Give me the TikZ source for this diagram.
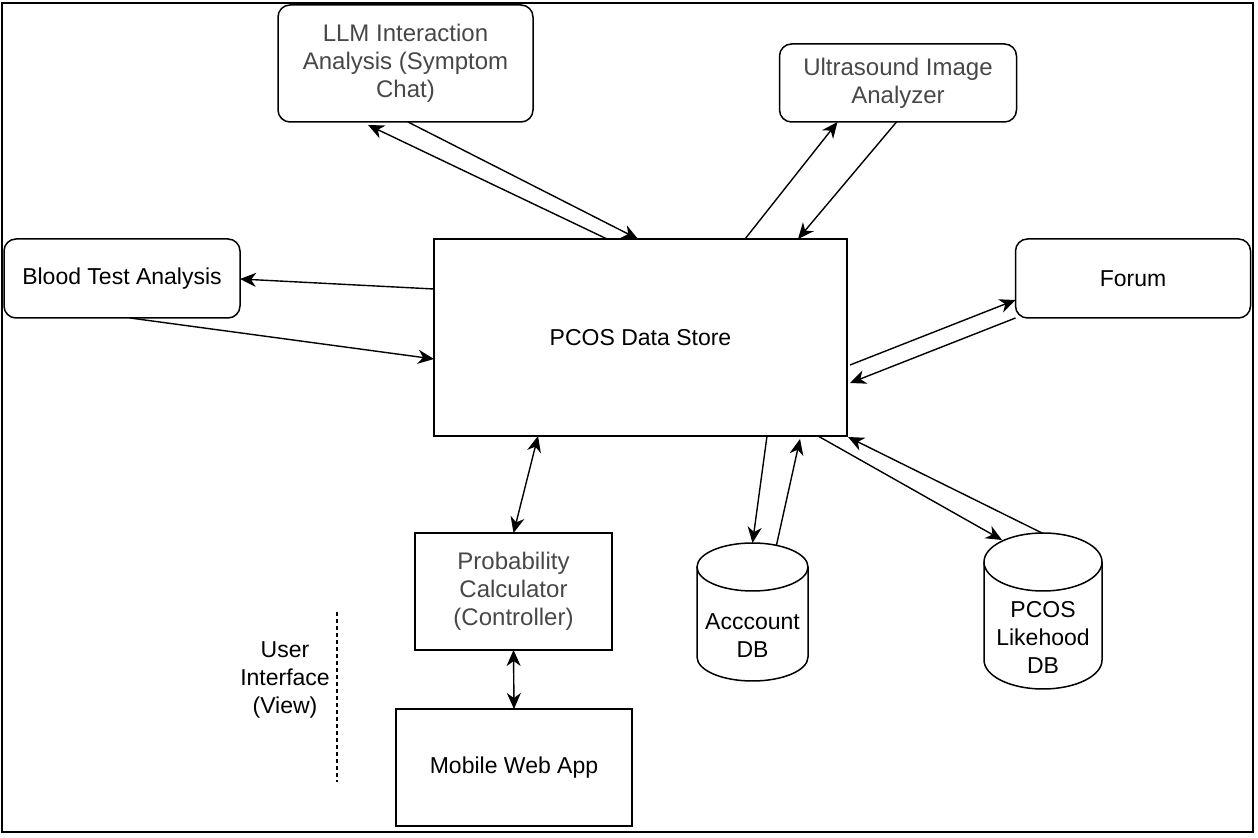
\documentclass[tikz,border=0pt]{standalone}
\usepackage{fontspec}
\setmainfont{Liberation Sans}
\usetikzlibrary{arrows.meta,calc}

\begin{document}
\begin{tikzpicture}[x=0.5pt,y=-0.5pt,
    box/.style={draw,line width=0.75pt,inner sep=0pt,outer sep=0pt,align=center,font=\fontsize{11.5pt}{14pt}\selectfont},
    rbox/.style={box,rounded corners=6pt},
    grey/.style={text=black!72,font=\fontsize{12pt}{14pt}\selectfont},
    dbbox/.style={inner sep=0pt,outer sep=0pt},
    txt/.style={align=center,inner sep=0pt,font=\fontsize{11.5pt}{14pt}\selectfont},
    arr/.style={line width=0.7pt,-{Stealth[length=8pt,width=7pt,inset=2.5pt]}},
    darr/.style={line width=0.7pt,{Stealth[length=8pt,width=7pt,inset=2.5pt]}-{Stealth[length=8pt,width=7pt,inset=2.5pt]}}]
        \useasboundingbox (0,0) rectangle (1258,838);
        \draw[line width=1.3pt] (2,3) rectangle (1253,832);

        \node[box,minimum width=206.5pt,minimum height=98.5pt] (ds) at (640.5,337.5) {PCOS Data Store};
        \node[rbox,grey,minimum width=127.5pt,minimum height=58.5pt] (llm) at (405.5,63.5) {LLM Interaction\\Analysis (Symptom\\Chat)};
        \node[rbox,grey,minimum width=118.5pt,minimum height=39pt] (us) at (898,83) {Ultrasound Image\\Analyzer};
        \node[rbox,minimum width=118pt,minimum height=39.5pt] (bt) at (122,278.5) {Blood Test Analysis};
        \node[rbox,minimum width=117.5pt,minimum height=39.5pt] (forum) at (1133,278.5) {Forum};
        \node[box,grey,minimum width=98.5pt,minimum height=58.5pt] (prob) at (513.5,591.5) {Probability\\Calculator\\(Controller)};
        \node[box,minimum width=118pt,minimum height=58.5pt] (app) at (514,767.5) {Mobile Web App};
        \node[txt] (ui) at (285,680) {User\\Interface\\(View)};

        % databases
        \node[dbbox,minimum width=55.5pt,minimum height=69pt] (acc) at (752.5,612) {};
        \node[dbbox,minimum width=59pt,minimum height=78pt] (lik) at (1043,611) {};
        \draw[line width=0.75pt] ($(acc.north)+(0,24)$) ellipse [x radius=27.75pt,y radius=12pt];
        \draw[line width=0.75pt] ($(acc.north west)+(0,24)$) -- ($(acc.south west)+(0,-24)$)
            arc [start angle=180,end angle=360,x radius=27.75pt,y radius=12pt] -- ($(acc.north east)+(0,24)$);
        \draw[line width=0.75pt] ($(lik.north)+(0,29)$) ellipse [x radius=29.5pt,y radius=14.5pt];
        \draw[line width=0.75pt] ($(lik.north west)+(0,29)$) -- ($(lik.south west)+(0,-29)$)
            arc [start angle=180,end angle=360,x radius=29.5pt,y radius=14.5pt] -- ($(lik.north east)+(0,29)$);
        \node[txt] (acclbl) at ($(acc.center)+(0,24)$) {Acccount\\DB};
        \node[txt] (liklbl) at ($(lik.center)+(0,26)$) {PCOS\\Likehood\\DB};

        \draw[dashed,line width=0.7pt,dash pattern=on 2pt off 1.5pt] (337,612) -- (337,782);

        \draw[arr] ($(llm.south west)+(130,0)$) -- ($(ds.north west)+(204,0)$);
        \draw[arr] ($(ds.north west)+(173,0)$) -- ($(llm.south west)+(90,3)$);
        \draw[arr] ($(ds.north west)+(311,0)$) -- ($(us.south west)+(58,0)$);
        \draw[arr] ($(us.south west)+(117,0)$) -- ($(ds.north west)+(364,0)$);
        \draw[arr] ($(ds.north west)+(0,50)$) -- ($(bt.north east)+(0,40)$);
        \draw[arr] ($(bt.south west)+(126,0)$) -- ($(ds.north west)+(0,120)$);
        \draw[arr] ($(ds.north east)+(3,126)$) -- ($(forum.north west)+(0,61)$);
        \draw[arr] (forum.south west) -- ($(ds.north east)+(3,144)$);
        \draw[darr] ($(ds.south west)+(104,0)$) -- (prob.north);
        \draw[darr] (prob.south) -- (app.north);
        \draw[arr] ($(ds.south west)+(333,0)$) -- (acc.north);
        \draw[arr] ($(acc.north)+(24,2)$) -- ($(ds.south west)+(366,3)$);
        \draw[arr] ($(ds.south west)+(384,0)$) -- ($(lik.north)+(-41,7)$);
        \draw[arr] ($(lik.north)+(-1,0)$) -- ($(ds.south east)+(1,1)$);
\end{tikzpicture}
\end{document}
